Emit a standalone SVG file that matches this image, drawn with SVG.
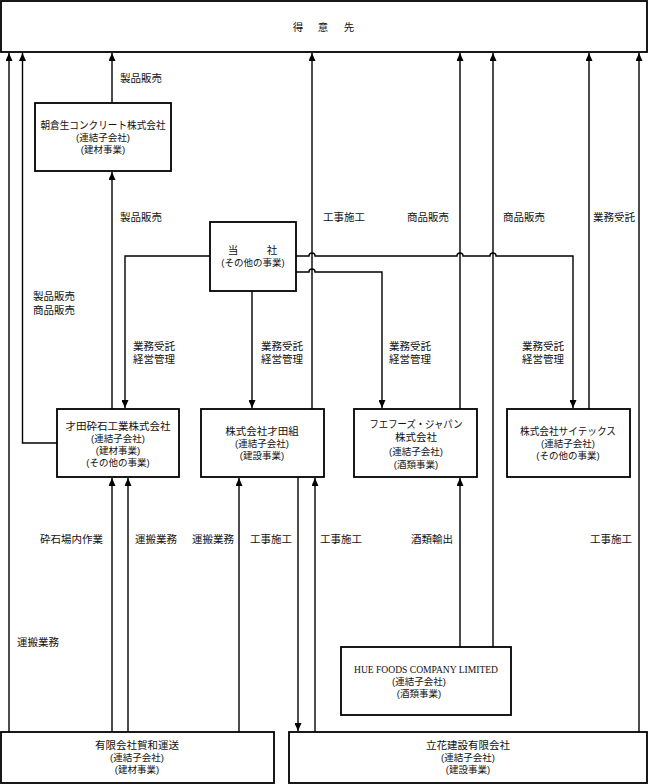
<svg xmlns="http://www.w3.org/2000/svg" width="648" height="784" viewBox="0 0 648 784">
<style>
.box{fill:#fff;stroke:#000;stroke-width:1.8}
.ln{fill:none;stroke:#000;stroke-width:1.4}
.ar{marker-end:url(#ah)}
text{font-family:"Liberation Sans","Noto Sans CJK JP",sans-serif;fill:#111;dominant-baseline:central}
.nm{font-size:10.5px;text-anchor:middle}
.sb{font-size:9.5px;text-anchor:middle}
.lb{font-size:10.5px}
.en{font-family:"Liberation Serif","Noto Sans CJK JP",serif;font-size:10px;text-anchor:middle}
</style>
<defs>
<marker id="ah" viewBox="0 0 8 7" refX="8" refY="3.5" markerWidth="8" markerHeight="7" markerUnits="userSpaceOnUse" orient="auto">
<path d="M0,0 L8,3.5 L0,7 z" fill="#000"/>
</marker>
</defs>
<rect width="648" height="784" fill="#fff"/>

<g id="connectors">
<path class="ln ar" d="M9,732 V53"/>
<path class="ln ar" d="M57,443 H22.5 V53"/>
<path class="ln ar" d="M112,103 V53"/>
<path class="ln ar" d="M112,409 V172"/>
<path class="ln ar" d="M210,256 H125 V408"/>
<path class="ln ar" d="M252,291 V408"/>
<path class="ln ar" d="M296,256 H309 a3,3 0 0 1 6,0 H457 a3,3 0 0 1 6,0 H490 a3,3 0 0 1 6,0 H573 V408"/>
<path class="ln ar" d="M296,272 H309 a3,3 0 0 1 6,0 H382 V408"/>
<path class="ln ar" d="M312,409 V53"/>
<path class="ln ar" d="M460,409 V53"/>
<path class="ln ar" d="M493,647 V53"/>
<path class="ln ar" d="M589,409 V53"/>
<path class="ln ar" d="M639,732 V53"/>
<path class="ln ar" d="M112,732 V478"/>
<path class="ln ar" d="M128,732 V478"/>
<path class="ln ar" d="M239,732 V478"/>
<path class="ln ar" d="M298,477 V731"/>
<path class="ln ar" d="M315,732 V478"/>
<path class="ln ar" d="M460,647 V478"/>
</g>

<g id="labels">
<text class="lb" x="120" y="78">製品販売</text>
<text class="lb" x="120" y="217">製品販売</text>
<text class="lb" x="33" y="296">製品販売</text>
<text class="lb" x="33" y="310">商品販売</text>
<text class="lb" x="323" y="217">工事施工</text>
<text class="lb" x="407" y="217">商品販売</text>
<text class="lb" x="503" y="217">商品販売</text>
<text class="lb" x="593" y="217">業務受託</text>
<text class="lb" x="133" y="346">業務受託</text>
<text class="lb" x="133" y="359">経営管理</text>
<text class="lb" x="261" y="346">業務受託</text>
<text class="lb" x="261" y="359">経営管理</text>
<text class="lb" x="389" y="346">業務受託</text>
<text class="lb" x="389" y="359">経営管理</text>
<text class="lb" x="522" y="346">業務受託</text>
<text class="lb" x="522" y="359">経営管理</text>
<text class="lb" x="40" y="539">砕石場内作業</text>
<text class="lb" x="135" y="539">運搬業務</text>
<text class="lb" x="192" y="539">運搬業務</text>
<text class="lb" x="250" y="539">工事施工</text>
<text class="lb" x="320" y="539">工事施工</text>
<text class="lb" x="411" y="539">酒類輸出</text>
<text class="lb" x="590" y="539">工事施工</text>
<text class="lb" x="17" y="642">運搬業務</text>
</g>

<g id="tokuisaki">
<rect class="box" x="1" y="1" width="646" height="51"/>
<text class="nm" y="27"><tspan x="298">得</tspan><tspan x="323">意</tspan><tspan x="349">先</tspan></text>
</g>

<g id="asakura">
<rect class="box" x="35" y="103" width="136" height="68"/>
<text class="nm" x="103" y="125" textLength="125" lengthAdjust="spacingAndGlyphs">朝倉生コンクリート株式会社</text>
<text class="sb" x="103" y="137">(連結子会社)</text>
<text class="sb" x="103" y="149">(建材事業)</text>
</g>

<g id="tosha">
<rect class="box" x="210" y="222" width="86" height="69"/>
<text class="nm" y="250"><tspan x="233">当</tspan><tspan x="272">社</tspan></text>
<text class="sb" x="253" y="262">(その他の事業)</text>
</g>

<g id="saita-saiseki">
<rect class="box" x="57" y="409" width="122" height="68"/>
<text class="nm" x="118" y="426">才田砕石工業株式会社</text>
<text class="sb" x="118" y="438">(連結子会社)</text>
<text class="sb" x="118" y="450">(建材事業)</text>
<text class="sb" x="118" y="462">(その他の事業)</text>
</g>

<g id="saitagumi">
<rect class="box" x="201" y="409" width="123" height="68"/>
<text class="nm" x="262" y="431">株式会社才田組</text>
<text class="sb" x="262" y="443">(連結子会社)</text>
<text class="sb" x="262" y="455">(建設事業)</text>
</g>

<g id="huefoods-japan">
<rect class="box" x="354" y="409" width="123" height="68"/>
<text class="nm" x="416" y="424" textLength="93" lengthAdjust="spacingAndGlyphs">フエフーズ・ジャパン</text>
<text class="nm" x="416" y="437">株式会社</text>
<text class="sb" x="416" y="451">(連結子会社)</text>
<text class="sb" x="416" y="464">(酒類事業)</text>
</g>

<g id="saitex">
<rect class="box" x="507" y="409" width="123" height="68"/>
<text class="nm" x="568" y="431" textLength="96" lengthAdjust="spacingAndGlyphs">株式会社サイテックス</text>
<text class="sb" x="568" y="443">(連結子会社)</text>
<text class="sb" x="568" y="455">(その他の事業)</text>
</g>

<g id="hue-foods">
<rect class="box" x="341" y="647" width="170" height="68"/>
<text class="en" x="426" y="669" textLength="144" lengthAdjust="spacingAndGlyphs">HUE FOODS COMPANY LIMITED</text>
<text class="sb" x="419" y="681">(連結子会社)</text>
<text class="sb" x="419" y="693">(酒類事業)</text>
</g>

<g id="kawa-unso">
<rect class="box" x="1" y="732" width="273" height="51"/>
<text class="nm" x="137" y="745">有限会社賀和運送</text>
<text class="sb" x="137" y="757">(連結子会社)</text>
<text class="sb" x="137" y="769">(建材事業)</text>
</g>

<g id="tachibana">
<rect class="box" x="289" y="732" width="358" height="51"/>
<text class="nm" x="468" y="745">立花建設有限会社</text>
<text class="sb" x="468" y="757">(連結子会社)</text>
<text class="sb" x="468" y="769">(建設事業)</text>
</g>
</svg>
